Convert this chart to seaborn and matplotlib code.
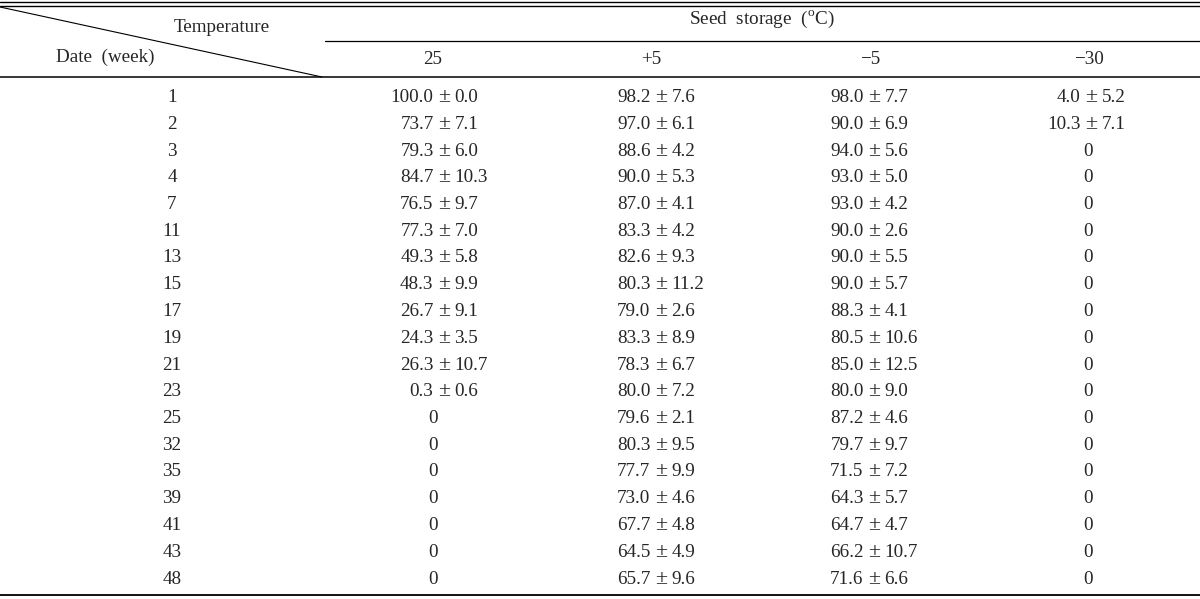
import matplotlib
matplotlib.use('Agg')
import matplotlib.pyplot as plt
import seaborn as sns

# Table data: germination (%) by storage week and temperature
weeks = [1, 2, 3, 4, 7, 11, 13, 15, 17, 19, 21, 23, 25, 32, 35, 39, 41, 43, 48]
temps = ['25', '+5', '\u22125', '\u221230']

mean_25 = [100.0, 73.7, 79.3, 84.7, 76.5, 77.3, 49.3, 48.3, 26.7, 24.3, 26.3, 0.3,
           0, 0, 0, 0, 0, 0, 0]
sd_25 = [0.0, 7.1, 6.0, 10.3, 9.7, 7.0, 5.8, 9.9, 9.1, 3.5, 10.7, 0.6,
         None, None, None, None, None, None, None]
mean_p5 = [98.2, 97.0, 88.6, 90.0, 87.0, 83.3, 82.6, 80.3, 79.0, 83.3, 78.3, 80.0,
           79.6, 80.3, 77.7, 73.0, 67.7, 64.5, 65.7]
sd_p5 = [7.6, 6.1, 4.2, 5.3, 4.1, 4.2, 9.3, 11.2, 2.6, 8.9, 6.7, 7.2,
         2.1, 9.5, 9.9, 4.6, 4.8, 4.9, 9.6]
mean_m5 = [98.0, 90.0, 94.0, 93.0, 93.0, 90.0, 90.0, 90.0, 88.3, 80.5, 85.0, 80.0,
           87.2, 79.7, 71.5, 64.3, 64.7, 66.2, 71.6]
sd_m5 = [7.7, 6.9, 5.6, 5.0, 4.2, 2.6, 5.5, 5.7, 4.1, 10.6, 12.5, 9.0,
         4.6, 9.7, 7.2, 5.7, 4.7, 10.7, 6.6]
mean_m30 = [4.0, 10.3] + [0] * 17
sd_m30 = [5.2, 7.1] + [None] * 17

sns.set_theme(style='white')
plt.rcParams['font.family'] = ['Liberation Serif', 'DejaVu Serif']
plt.rcParams['mathtext.fontset'] = 'custom'
plt.rcParams['mathtext.rm'] = 'Liberation Serif'

fig = plt.figure(figsize=(12, 5.99), dpi=100)
ax = fig.add_axes([0, 0, 1, 1])
ax.set_xlim(0, 1200)
ax.set_ylim(599, 0)
ax.axis('off')

fs = 13.8
lc = 'black'

# rules
ax.plot([0, 1200], [2, 2], color=lc, lw=1.0)
ax.plot([0, 1200], [6, 6], color=lc, lw=1.0)
ax.plot([325, 1200], [41, 41], color=lc, lw=0.9)
ax.plot([0, 1200], [77, 77], color=lc, lw=1.1)
ax.plot([0, 1200], [595, 595], color=lc, lw=1.3)
ax.plot([0, 322], [7, 77], color=lc, lw=0.8)

# header
ax.text(222, 27, 'Temperature', fontsize=fs, ha='center', va='center')
ax.text(105, 57, 'Date  (week)', fontsize=fs, ha='center', va='center')
ax.text(762, 19, 'Seed  storage  ($^{\\mathrm{o}}$C)', fontsize=fs, ha='center', va='center')

head_x = [433, 651, 870, 1089]
for x, t in zip(head_x, temps):
    ax.text(x, 60, t, fontsize=fs, ha='center', va='center')

pm_x = [444, 661, 874, 1091]
zero_x = [433, 651, 870, 1088]
cols = [(mean_25, sd_25), (mean_p5, sd_p5), (mean_m5, sd_m5), (mean_m30, sd_m30)]
y0, dy = 97.5, 26.75
for i, w in enumerate(weeks):
    y = y0 + i * dy
    ax.text(172, y, str(w), fontsize=fs, ha='center', va='center')
    for px, zx, (m, s) in zip(pm_x, zero_x, cols):
        if s[i] is None:
            ax.text(zx, y, '0', fontsize=fs, ha='center', va='center')
        else:
            ax.text(px, y, '\u00b1', fontsize=fs * 1.15, ha='center', va='center')
            ax.text(px - 10.5, y, f'{m[i]:.1f}', fontsize=fs, ha='right', va='center')
            ax.text(px + 10.5, y, f'{s[i]:.1f}', fontsize=fs, ha='left', va='center')

fig.savefig('out.png', dpi=100)
